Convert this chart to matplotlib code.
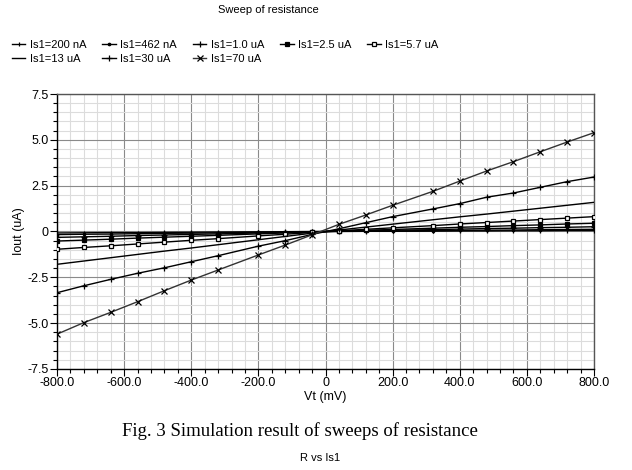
import matplotlib
matplotlib.use("Agg")
import matplotlib.pyplot as plt
from matplotlib.ticker import MultipleLocator, FuncFormatter

vt = [-800, -720, -640, -560, -480, -400, -320, -200, -120, -40,
      40, 120, 200, 320, 400, 480, 560, 640, 720, 800]

labels = ["Is1=200 nA", "Is1=462 nA", "Is1=1.0 uA", "Is1=2.5 uA", "Is1=5.7 uA",
          "Is1=13 uA", "Is1=30 uA", "Is1=70 uA"]

i_200n = [-0.08, -0.07, -0.06, -0.06, -0.05, -0.04, -0.03, -0.02, -0.01, 0.0,
          0.0, 0.01, 0.01, 0.02, 0.03, 0.03, 0.04, 0.04, 0.05, 0.05]
i_462n = [-0.17, -0.15, -0.14, -0.12, -0.10, -0.09, -0.07, -0.04, -0.03, -0.01,
          0.01, 0.02, 0.03, 0.05, 0.06, 0.07, 0.08, 0.10, 0.11, 0.12]
i_1u0 = [-0.32, -0.29, -0.26, -0.22, -0.19, -0.16, -0.13, -0.08, -0.05, -0.02,
         0.01, 0.04, 0.07, 0.10, 0.13, 0.16, 0.18, 0.21, 0.23, 0.26]
i_2u5 = [-0.52, -0.47, -0.42, -0.36, -0.31, -0.26, -0.21, -0.13, -0.08, -0.03,
         0.02, 0.07, 0.11, 0.18, 0.23, 0.27, 0.32, 0.36, 0.41, 0.45]
i_5u7 = [-0.97, -0.87, -0.78, -0.68, -0.58, -0.48, -0.39, -0.24, -0.15, -0.05,
         0.04, 0.12, 0.20, 0.32, 0.41, 0.49, 0.57, 0.65, 0.73, 0.81]
i_13u = [-1.79, -1.61, -1.43, -1.25, -1.07, -0.90, -0.72, -0.45, -0.27, -0.09,
         0.08, 0.24, 0.40, 0.64, 0.80, 0.95, 1.11, 1.27, 1.43, 1.59]
i_30u = [-3.34, -2.96, -2.61, -2.28, -1.98, -1.65, -1.32, -0.80, -0.50, -0.16,
         0.15, 0.48, 0.81, 1.23, 1.52, 1.87, 2.10, 2.41, 2.72, 2.97]
i_70u = [-5.60, -4.97, -4.41, -3.83, -3.23, -2.65, -2.10, -1.28, -0.74, -0.18,
         0.39, 0.90, 1.43, 2.19, 2.75, 3.30, 3.81, 4.35, 4.88, 5.39]

series = [i_200n, i_462n, i_1u0, i_2u5, i_5u7, i_13u, i_30u, i_70u]
markers = ["|", ".", "+", "s", "s", "None", "+", "x"]
msizes = [3.5, 3.5, 5, 2.2, 3.0, 0, 5, 5]
mfaces = ["black", "black", "black", "black", "white", "black", "black", "black"]
lcolors = ["black", "black", "black", "black", "black", "black", "black", "#333333"]

plt.rcParams["font.family"] = ["Liberation Sans", "DejaVu Sans"]

fig = plt.figure(figsize=(6.32, 4.70), dpi=100)
ax = fig.add_axes([0.0902, 0.2149, 0.8497, 0.5851])

handles = []
for y, lab, m, ms, mf, lc in zip(series, labels, markers, msizes, mfaces, lcolors):
    h, = ax.plot(vt, y, color=lc, lw=1.0, marker=m, markersize=ms,
                 markerfacecolor=mf, markeredgecolor="black", markeredgewidth=0.9,
                 label=lab, zorder=3)
    handles.append(h)

ax.set_xlim(-800, 800)
ax.set_ylim(-7.5, 7.5)
ax.xaxis.set_major_locator(MultipleLocator(200))
ax.xaxis.set_minor_locator(MultipleLocator(40))
ax.yaxis.set_major_locator(MultipleLocator(2.5))
ax.yaxis.set_minor_locator(MultipleLocator(0.5))

fmt = FuncFormatter(lambda v, p: "0" if abs(v) < 1e-9 else f"{v:.1f}")
ax.xaxis.set_major_formatter(fmt)
ax.yaxis.set_major_formatter(fmt)

ax.grid(which="minor", color="#dcdcdc", lw=0.8, zorder=0)
ax.grid(which="major", color="#8a8a8a", lw=0.8, zorder=1)
ax.set_axisbelow(True)

ax.tick_params(which="major", direction="out", length=5, width=0.8, labelsize=9,
               colors="black", pad=1)
ax.tick_params(which="minor", direction="out", length=3, width=0.8)
ax.spines["top"].set_color("#555555")
ax.spines["right"].set_color("#555555")
for s in ax.spines.values():
    s.set_linewidth(1.0)

ax.set_xlabel("Vt (mV)", fontsize=9, labelpad=1)
ax.set_ylabel("Iout (uA)", fontsize=9, labelpad=2)

fig.text(0.424, 0.99, "Sweep of resistance", ha="center", va="top", fontsize=8)

order = [0, 5, 1, 6, 2, 7, 3, 4]
fig.legend(handles=[handles[i] for i in order], ncol=5, loc="upper left",
           bbox_to_anchor=(0.012, 0.925),
           frameon=False, fontsize=8, handlelength=1.2, handletextpad=0.4,
           columnspacing=1.45, labelspacing=0.35, borderaxespad=0)

fig.text(0.475, 0.082, "Fig. 3 Simulation result of sweeps of resistance",
         ha="center", va="center", fontsize=13.5, family=["Liberation Serif", "DejaVu Serif"])
fig.text(0.506, 0.025, "R vs Is1", ha="center", va="center", fontsize=8)

fig.savefig("out.png", dpi=100)
